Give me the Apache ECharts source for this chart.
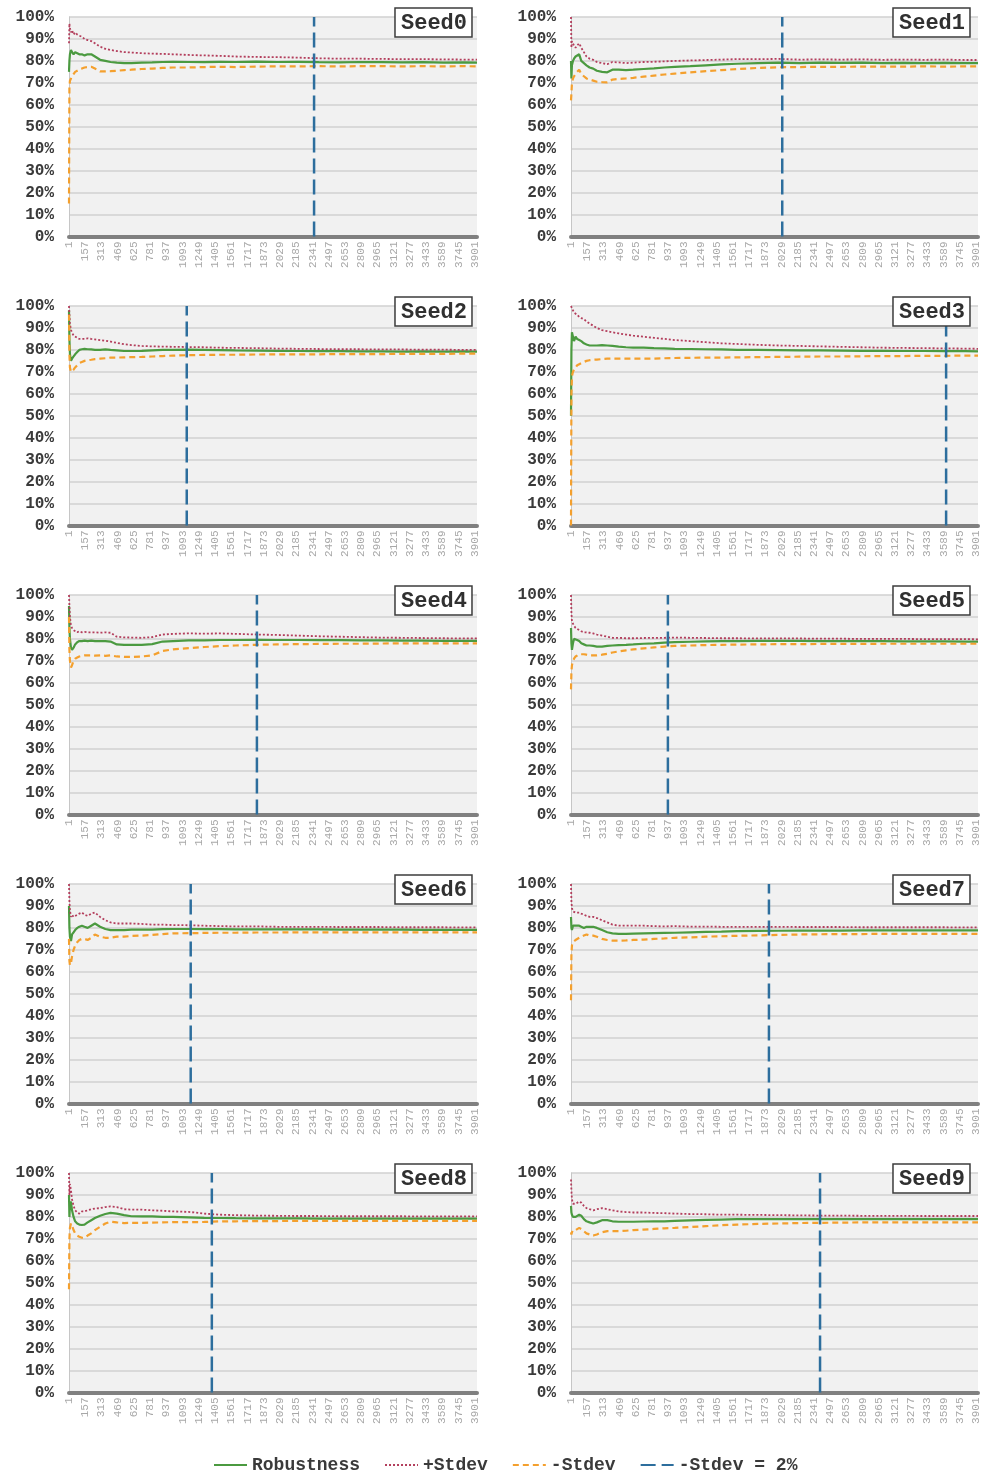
<!DOCTYPE html>
<html>
<head>
<meta charset="utf-8">
<script src="https://cdn.jsdelivr.net/npm/echarts@6/dist/echarts.min.js"></script>
<style>
  html, body { margin: 0; padding: 0; background: #ffffff; }
  #chart { width: 982px; height: 1473px; }
</style>
</head>
<body>
<div id="chart"></div>
<script>
// Iteration numbers at which the running statistics were sampled
const iterations = [1, 5, 10, 20, 30, 45, 60, 80, 100, 125, 150, 180, 215, 250, 300, 350, 400, 460, 530, 600,
  700, 800, 900, 1000, 1150, 1300, 1450, 1600, 1800, 2000, 2200, 2400, 2600, 2800, 3000, 3200, 3400, 3600, 3800, 3920];

const xTickLabels = [1, 157, 313, 469, 625, 781, 937, 1093, 1249, 1405, 1561, 1717, 1873, 2029, 2185,
  2341, 2497, 2653, 2809, 2965, 3121, 3277, 3433, 3589, 3745, 3901];
const yTickLabels = [0, 10, 20, 30, 40, 50, 60, 70, 80, 90, 100];

const seedNames = ['Seed0', 'Seed1', 'Seed2', 'Seed3', 'Seed4', 'Seed5', 'Seed6', 'Seed7', 'Seed8', 'Seed9'];

// Iteration where the standard deviation first drops to 2 %
const stdevTwoPercentAt = [2355, 2035, 1132, 3613, 1806, 934, 1170, 1907, 1373, 2399];

// Robustness (%), mean +Stdev and mean -Stdev per seed
const robustnessSeed0 = [75, 80, 83, 85, 84, 83, 84, 83.5, 83, 83, 82.5, 83, 83, 82, 80.5, 80, 79.5, 79.2, 79, 79, 79.2, 79.3, 79.5, 79.6, 79.5, 79.4, 79.6, 79.5, 79.7, 79.5, 79.6, 79.4, 79.3, 79.5, 79.4, 79.3, 79.4, 79.2, 79.3, 79.2];
const plusStdevSeed0 = [88, 97, 95, 93, 94, 92, 93, 92, 91.5, 91, 90, 89.5, 89, 88, 86.5, 85.5, 85, 84.5, 84, 83.8, 83.5, 83.3, 83.2, 83, 82.7, 82.5, 82.3, 82, 81.8, 81.7, 81.5, 81.2, 81, 81, 80.9, 80.8, 80.8, 80.7, 80.6, 80.6];
const minusStdevSeed0 = [15, 68, 71, 72, 73, 74, 75, 75.5, 76, 76.5, 77, 77.2, 77.3, 76.5, 75.2, 75.2, 75.3, 75.5, 75.8, 76, 76.3, 76.5, 76.8, 77, 77, 77.2, 77.3, 77.2, 77.4, 77.5, 77.5, 77.6, 77.5, 77.6, 77.6, 77.5, 77.6, 77.5, 77.6, 77.5];

const robustnessSeed1 = [80, 72, 78, 80, 81, 82, 82.5, 83, 80, 79, 78, 77, 76.5, 75.5, 75, 74.8, 76, 76, 75.8, 76, 76.3, 76.6, 77, 77.3, 77.6, 78, 78.4, 78.7, 79, 79.2, 79, 79.2, 79.1, 79.2, 79, 79.1, 79, 79.1, 79, 79];
const plusStdevSeed1 = [100, 86, 89, 88, 87, 86, 87, 88, 86, 84, 82, 81, 80.5, 79.5, 79, 78.5, 79.5, 79.3, 79, 79.2, 79.5, 79.6, 79.8, 80, 80.2, 80.4, 80.6, 80.8, 80.8, 80.9, 80.6, 80.7, 80.6, 80.7, 80.5, 80.6, 80.5, 80.6, 80.4, 80.4];
const minusStdevSeed1 = [62, 65, 70, 72, 73, 74, 75, 76, 74, 73, 72, 71.5, 71, 70.5, 70.3, 70.2, 71.5, 71.8, 72, 72.3, 72.8, 73.3, 73.8, 74.2, 74.8, 75.3, 75.8, 76.3, 76.8, 77.1, 77.2, 77.3, 77.3, 77.4, 77.4, 77.4, 77.5, 77.4, 77.5, 77.5];

const robustnessSeed2 = [98, 85, 78, 75, 76, 77, 78, 79, 80, 80.3, 80.5, 80.3, 80.2, 80, 80, 80.2, 80, 79.8, 79.5, 79.5, 79.6, 79.8, 80, 80, 80.1, 80, 79.9, 79.8, 79.7, 79.6, 79.5, 79.4, 79.4, 79.3, 79.3, 79.2, 79.3, 79.2, 79.3, 79.2];
const plusStdevSeed2 = [100, 96, 92, 89, 88, 86.5, 86, 85.5, 85, 85, 85, 85.3, 85, 84.8, 84.5, 84.2, 83.8, 83.2, 82.6, 82.2, 81.8, 81.6, 81.5, 81.4, 81.3, 81.2, 81, 80.9, 80.8, 80.6, 80.5, 80.4, 80.3, 80.3, 80.2, 80.2, 80.1, 80.1, 80, 80];
const minusStdevSeed2 = [96, 78, 72, 70, 70.5, 71, 72, 73, 74, 74.5, 75, 75.3, 75.5, 75.8, 76, 76.2, 76.5, 76.5, 76.6, 76.7, 76.8, 77, 77.2, 77.4, 77.6, 77.7, 77.8, 77.8, 77.9, 78, 78, 78, 78.1, 78.1, 78.1, 78.2, 78.2, 78.2, 78.3, 78.3];

const robustnessSeed3 = [50, 80, 88, 86, 84, 86, 85, 84.5, 84, 83, 82.5, 82, 82, 82, 82.2, 82, 81.8, 81.5, 81.2, 81, 81, 80.8, 80.7, 80.5, 80.4, 80.3, 80.2, 80, 80, 79.9, 79.8, 79.8, 79.7, 79.6, 79.6, 79.5, 79.5, 79.4, 79.4, 79.3];
const plusStdevSeed3 = [100, 100, 99, 98, 97, 97, 96, 95, 94.5, 94, 93, 92, 91, 90, 89, 88.5, 88, 87.5, 87, 86.5, 86, 85.5, 85, 84.5, 84, 83.5, 83, 82.7, 82.3, 82, 81.8, 81.6, 81.4, 81.2, 81, 80.9, 80.8, 80.7, 80.6, 80.5];
const minusStdevSeed3 = [0, 60, 68, 70, 71, 72, 73, 73.5, 74, 74.5, 75, 75.3, 75.5, 75.6, 75.8, 76, 76, 76, 76, 76, 76, 76, 76.2, 76.3, 76.4, 76.5, 76.5, 76.6, 76.7, 76.8, 76.9, 77, 77, 77.1, 77.2, 77.2, 77.3, 77.3, 77.4, 77.4];

const robustnessSeed4 = [95, 85, 80, 76, 75, 76, 77.5, 78.5, 79, 79, 79.2, 79, 79.2, 79, 79, 79, 78.8, 77.5, 77.3, 77.3, 77.3, 77.6, 78.8, 79, 79.3, 79.3, 79.5, 79.5, 79.6, 79.5, 79.5, 79.4, 79.4, 79.3, 79.3, 79.2, 79.2, 79.1, 79.1, 79.1];
const plusStdevSeed4 = [100, 95, 90, 86, 85, 84, 83.5, 83, 83.5, 83, 83.2, 83, 83, 83, 82.8, 83, 82.8, 81, 80.7, 80.6, 80.5, 80.8, 82, 82.3, 82.5, 82.4, 82.5, 82.3, 82, 81.8, 81.5, 81.2, 81, 80.8, 80.6, 80.5, 80.4, 80.3, 80.2, 80.2];
const minusStdevSeed4 = [90, 75, 70, 67, 68, 70, 71, 71.5, 72, 72.3, 72.5, 72.5, 72.5, 72.4, 72.5, 72.3, 72.5, 72, 71.8, 71.8, 72, 72.5, 74.5, 75.2, 75.8, 76.3, 76.7, 77, 77.3, 77.5, 77.6, 77.7, 77.8, 77.8, 77.9, 78, 78, 78, 78, 78];

const robustnessSeed5 = [85, 78, 75, 78, 80, 80, 79.5, 79, 78, 77.5, 77, 77, 76.8, 76.5, 76.5, 76.8, 77, 77.2, 77.3, 77.5, 77.8, 78, 78.3, 78.5, 78.7, 78.9, 79, 79, 79.1, 79.1, 79.1, 79, 79, 79, 79, 78.9, 78.9, 78.9, 78.8, 78.8];
const plusStdevSeed5 = [100, 92, 88, 87, 86, 85, 85, 84, 83.5, 83, 83, 82.8, 82.5, 82, 81.5, 81, 80.5, 80.5, 80.3, 80.3, 80.4, 80.5, 80.5, 80.6, 80.5, 80.4, 80.3, 80.3, 80.2, 80.2, 80.2, 80.1, 80.1, 80, 80, 80, 79.9, 79.9, 79.9, 79.8];
const minusStdevSeed5 = [57, 65, 68, 70, 71, 72, 72.5, 73, 73, 73, 72.8, 72.5, 72.5, 72.5, 72.8, 73.2, 73.8, 74.3, 74.8, 75.2, 75.7, 76.1, 76.5, 76.8, 77, 77.2, 77.3, 77.4, 77.5, 77.6, 77.6, 77.7, 77.7, 77.7, 77.8, 77.8, 77.8, 77.8, 77.8, 77.8];

const robustnessSeed6 = [90, 80, 76, 74, 77, 78, 79, 80, 80.5, 81, 80.5, 80, 81, 82, 80.5, 79.5, 79, 79, 79, 79.2, 79.2, 79.2, 79.4, 79.5, 79.5, 79.4, 79.4, 79.3, 79.3, 79.3, 79.3, 79.3, 79.2, 79.2, 79.2, 79.2, 79.1, 79.1, 79.1, 79.1];
const plusStdevSeed6 = [100, 92, 88, 85, 86, 85, 85.5, 86, 86.5, 87, 86, 85.5, 86.5, 87, 85, 83.5, 82.5, 82, 82, 82, 81.8, 81.5, 81.5, 81.3, 81.2, 81, 80.8, 80.7, 80.7, 80.5, 80.5, 80.5, 80.4, 80.4, 80.4, 80.3, 80.3, 80.3, 80.2, 80.2];
const minusStdevSeed6 = [75, 65, 63, 64, 67, 70, 72, 73.5, 74.5, 75, 75, 74.5, 75.5, 77, 76, 75.5, 75.5, 76, 76, 76.3, 76.5, 76.8, 77.2, 77.5, 77.6, 77.7, 77.8, 77.8, 77.9, 77.9, 78, 78, 78, 78, 78, 78, 78, 78, 78, 78];

const robustnessSeed7 = [85, 80, 79, 81, 81.5, 81, 81, 81, 80.5, 80, 80.5, 80.5, 80.5, 80, 79, 78, 77.5, 77.3, 77.3, 77.4, 77.5, 77.6, 77.7, 77.8, 78, 78.2, 78.3, 78.5, 78.6, 78.7, 78.8, 78.8, 78.8, 78.9, 78.9, 78.9, 78.9, 78.9, 78.9, 78.9];
const plusStdevSeed7 = [100, 92, 89, 87.5, 87, 87, 87.5, 87, 86.5, 86, 85.5, 85, 85, 84.5, 83.5, 82.5, 81.5, 81, 81, 81, 81, 80.8, 80.7, 80.8, 80.6, 80.6, 80.5, 80.5, 80.5, 80.5, 80.4, 80.4, 80.4, 80.3, 80.3, 80.3, 80.3, 80.3, 80.2, 80.2];
const minusStdevSeed7 = [47, 68, 72, 73.5, 74, 74.5, 75, 75.5, 76, 76.5, 77, 76.5, 76.5, 76, 75, 74.5, 74.2, 74.2, 74.3, 74.5, 74.7, 75, 75.2, 75.5, 75.7, 76, 76.2, 76.4, 76.6, 76.8, 77, 77.1, 77.2, 77.2, 77.3, 77.3, 77.3, 77.3, 77.3, 77.3];

const robustnessSeed8 = [90, 80, 86, 87, 83, 80, 78, 77, 76.5, 76.3, 76.5, 77.5, 78.5, 79.5, 80.5, 81.3, 81.8, 81.5, 80.8, 80.3, 80.2, 80.2, 80, 80, 79.8, 79.6, 79.5, 79.4, 79.3, 79.3, 79.3, 79.2, 79.2, 79.2, 79.2, 79.2, 79.2, 79.2, 79.2, 79.2];
const plusStdevSeed8 = [100, 90, 95, 92, 88, 85, 83, 82, 81.5, 82.5, 82.5, 83, 83.5, 83.8, 84, 84.5, 84.8, 84.5, 83.5, 83.3, 83.3, 83, 82.8, 82.5, 82.3, 81.5, 81, 80.8, 80.6, 80.5, 80.4, 80.4, 80.3, 80.3, 80.3, 80.3, 80.2, 80.2, 80.2, 80.2];
const minusStdevSeed8 = [47, 70, 75, 77, 76, 74, 72.5, 71.5, 71, 70.5, 70.5, 71.5, 72.5, 74, 75.5, 77, 77.8, 77.5, 77.2, 77.3, 77.3, 77.4, 77.5, 77.6, 77.6, 77.7, 78, 78, 78.1, 78.1, 78.2, 78.2, 78.2, 78.2, 78.2, 78.2, 78.2, 78.2, 78.2, 78.2];

const robustnessSeed9 = [85, 82, 81, 80, 79.5, 80, 80.5, 81, 80.5, 79, 78, 77.5, 77, 77.5, 78.5, 78.5, 78, 77.8, 77.8, 77.8, 77.9, 78, 78, 78.2, 78.4, 78.6, 78.8, 79, 79, 79, 79, 79, 79, 79, 79, 79, 79, 79, 79, 79];
const plusStdevSeed9 = [97, 92, 88, 86, 85.5, 86, 86.5, 87, 86.5, 85, 84, 83.5, 83, 83.5, 84, 83.5, 83, 82.5, 82.2, 82, 82, 81.8, 81.7, 81.5, 81.3, 81.2, 81, 81, 80.9, 80.8, 80.7, 80.6, 80.6, 80.5, 80.5, 80.5, 80.4, 80.4, 80.4, 80.4];
const minusStdevSeed9 = [73, 72, 73, 74, 73.5, 74, 74.5, 75, 74.5, 73.5, 72.5, 72, 71.5, 72, 73, 73.5, 73.5, 73.5, 73.7, 74, 74.2, 74.5, 74.8, 75, 75.4, 75.8, 76.2, 76.5, 76.8, 77, 77.2, 77.3, 77.4, 77.5, 77.5, 77.5, 77.5, 77.5, 77.5, 77.5];

const robustness = [robustnessSeed0, robustnessSeed1, robustnessSeed2, robustnessSeed3, robustnessSeed4,
  robustnessSeed5, robustnessSeed6, robustnessSeed7, robustnessSeed8, robustnessSeed9];
const plusStdev = [plusStdevSeed0, plusStdevSeed1, plusStdevSeed2, plusStdevSeed3, plusStdevSeed4,
  plusStdevSeed5, plusStdevSeed6, plusStdevSeed7, plusStdevSeed8, plusStdevSeed9];
const minusStdev = [minusStdevSeed0, minusStdevSeed1, minusStdevSeed2, minusStdevSeed3, minusStdevSeed4,
  minusStdevSeed5, minusStdevSeed6, minusStdevSeed7, minusStdevSeed8, minusStdevSeed9];

const MONO = '"Liberation Mono", "Courier New", monospace';
const COLORS = { robust: '#4b9a40', plus: '#b33e5c', minus: '#f4a02e', marker: '#2d6e9d' };

const pair = (vals) => iterations.map((it, k) => [it, vals[k]]);

const grids = [], xAxes = [], yAxes = [], titles = [], series = [];

seedNames.forEach((name, i) => {
  const col = i % 2, row = Math.floor(i / 2);
  const left = col === 0 ? 69 : 571;
  const top = 17 + 289 * row;
  grids.push({
    left: left, top: top, width: col === 0 ? 408 : 407, height: 219.5,
    show: true, backgroundColor: '#f1f1f1', borderWidth: 0
  });
  xAxes.push({
    type: 'value', gridIndex: i, min: 1, max: 3920,
    axisLine: { show: true, onZero: false, lineStyle: { color: '#808080', width: 4 } },
    axisTick: { show: false },
    splitLine: { show: false },
    axisLabel: {
      customValues: xTickLabels, rotate: 90, margin: 5,
      fontFamily: MONO, fontSize: 11, color: '#a8a8a8',
      formatter: (v) => String(v)
    }
  });
  yAxes.push({
    type: 'value', gridIndex: i, min: 0, max: 100, interval: 10,
    axisLine: { show: true, lineStyle: { color: '#c6c6c6', width: 1 } },
    axisTick: { show: false },
    splitLine: { show: true, lineStyle: { color: '#d0d0d0', width: 1.5 } },
    axisLabel: {
      customValues: yTickLabels, margin: 15,
      fontFamily: MONO, fontWeight: 'bold', fontSize: 16, color: '#3a3a3a',
      formatter: '{value}%'
    }
  });
  titles.push({
    text: name,
    right: col === 0 ? 510 : 12, top: 8 + 289 * row,
    backgroundColor: '#ffffff', borderColor: '#3c3c3c', borderWidth: 1.5,
    padding: [4, 5, 3, 6],
    textStyle: { fontFamily: MONO, fontWeight: 'bold', fontSize: 22, color: '#303030' }
  });
  series.push({
    name: 'Robustness', type: 'line', xAxisIndex: i, yAxisIndex: i,
    symbol: 'none', data: pair(robustness[i]),
    lineStyle: { color: COLORS.robust, width: 2.2 }, itemStyle: { color: COLORS.robust }
  });
  series.push({
    name: '+Stdev', type: 'line', xAxisIndex: i, yAxisIndex: i,
    symbol: 'none', data: pair(plusStdev[i]),
    lineStyle: { color: COLORS.plus, width: 1.8, type: [2, 2] }, itemStyle: { color: COLORS.plus }
  });
  series.push({
    name: '-Stdev', type: 'line', xAxisIndex: i, yAxisIndex: i,
    symbol: 'none', data: pair(minusStdev[i]),
    lineStyle: { color: COLORS.minus, width: 2.2, type: [6, 4] }, itemStyle: { color: COLORS.minus }
  });
  series.push({
    name: '-Stdev = 2%', type: 'line', xAxisIndex: i, yAxisIndex: i,
    symbol: 'none', data: [[stdevTwoPercentAt[i], 0], [stdevTwoPercentAt[i], 100]],
    lineStyle: { color: COLORS.marker, width: 2.5, type: [15, 6] }, itemStyle: { color: COLORS.marker }
  });
});

const chart = echarts.init(document.getElementById('chart'), null, { renderer: 'canvas' });
chart.setOption({
  animation: false,
  backgroundColor: '#ffffff',
  title: titles,
  grid: grids,
  xAxis: xAxes,
  yAxis: yAxes,
  legend: {
    data: ['Robustness', '+Stdev', '-Stdev', '-Stdev = 2%'],
    top: 1451, left: 208,
    itemWidth: 33, itemHeight: 12, itemGap: 24,
    itemStyle: { opacity: 0 },
    textStyle: { fontFamily: MONO, fontWeight: 'bold', fontSize: 18, color: '#3a3a3a' }
  },
  series: series
});
</script>
</body>
</html>
